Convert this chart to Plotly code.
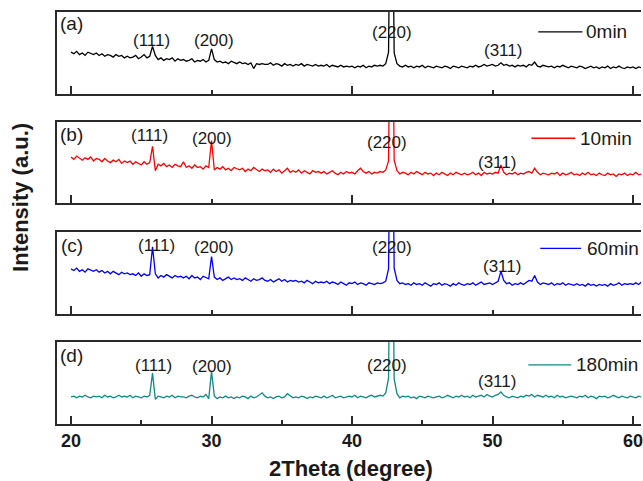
import plotly.graph_objects as go

# ---------------- data ----------------
two_theta = [round(20 + 0.2 * i, 1) for i in range(204)]  # 20.0 ... 60.6 sampling grid

intensity_0min = [
    51, 49, 52, 48, 50, 47, 51, 49, 48, 50,
    47, 49, 46, 48, 47, 45, 48, 46, 47, 44,
    46, 44, 45, 47, 43, 45, 48, 44, 46, 58,
    47, 42, 44, 41, 43, 42, 44, 40, 43, 41,
    42, 40, 41, 43, 39, 41, 40, 42, 39, 41,
    55, 42, 39, 40, 38, 39, 37, 40, 38, 37,
    39, 37, 38, 36, 38, 31, 37, 36, 37, 36,
    36, 38, 35, 37, 36, 34, 37, 35, 36, 34,
    36, 35, 37, 34, 36, 35, 34, 36, 34, 35,
    34, 36, 33, 35, 34, 33, 35, 33, 34, 33,
    34, 32, 34, 33, 35, 32, 34, 33, 35, 34,
    35, 34, 37, 51, 400, 50, 37, 34, 33, 35,
    33, 34, 32, 34, 33, 35, 32, 34, 33, 32,
    34, 33, 32, 34, 33, 31, 34, 33, 32, 34,
    33, 32, 34, 33, 35, 33, 34, 36, 34, 35,
    36, 34, 35, 38, 35, 36, 34, 35, 33, 35,
    34, 35, 33, 36, 35, 39, 34, 33, 35, 34,
    33, 34, 32, 34, 33, 35, 33, 32, 34, 33,
    32, 34, 33, 31, 33, 34, 32, 33, 31, 33,
    32, 34, 31, 33, 32, 34, 32, 31, 33, 32,
    33, 31, 33, 32,
]

intensity_10min = [
    57, 54, 58, 55, 53, 56, 54, 57, 52, 55,
    54, 51, 55, 52, 50, 53, 51, 54, 49, 52,
    50, 52, 48, 51, 49, 47, 51, 48, 50, 70,
    40, 48, 46, 49, 45, 47, 44, 48, 46, 45,
    51, 44, 46, 43, 47, 44, 45, 42, 46, 44,
    77, 41, 44, 42, 45, 41, 43, 40, 44, 42,
    41, 43, 39, 42, 40, 44, 41, 39, 42, 40,
    41, 38, 42, 39, 41, 37, 40, 43, 38, 40,
    38, 41, 37, 40, 38, 36, 40, 38, 39, 37,
    39, 36, 38, 40, 37, 35, 38, 36, 39, 37,
    38, 36, 40, 43, 39, 37, 39, 36, 38, 37,
    39, 38, 41, 52, 400, 53, 40, 36, 38, 37,
    35, 38, 36, 39, 37, 35, 38, 36, 37, 34,
    37, 35, 38, 36, 34, 37, 35, 38, 36, 35,
    37, 35, 36, 38, 35, 37, 34, 38, 36, 37,
    36, 38, 37, 47, 38, 35, 37, 36, 38, 35,
    37, 36, 38, 39, 37, 43, 38, 35, 37, 36,
    35, 37, 36, 38, 34, 37, 35, 36, 38, 35,
    36, 34, 37, 35, 38, 35, 36, 34, 37, 35,
    34, 37, 35, 36, 33, 36, 35, 37, 34, 36,
    35, 38, 35, 36,
]

intensity_60min = [
    55, 53, 56, 52, 54, 51, 55, 53, 52, 54,
    51, 53, 50, 52, 49, 52, 50, 48, 51, 49,
    50, 48, 49, 47, 50, 46, 49, 47, 48, 82,
    49, 44, 47, 45, 48, 46, 44, 47, 45, 46,
    44, 46, 43, 47, 44, 45, 42, 46, 44, 43,
    70, 45, 42, 44, 41, 43, 45, 42, 44, 42,
    43, 41, 44, 42, 40, 43, 41, 42, 44, 41,
    40, 42, 39, 41, 43, 40, 42, 39, 41, 40,
    41, 39, 40, 38, 41, 39, 37, 40, 38, 39,
    38, 40, 37, 39, 38, 36, 39, 37, 35, 38,
    37, 39, 36, 38, 37, 35, 38, 37, 36, 38,
    37, 38, 40, 55, 400, 56, 41, 37, 38, 36,
    37, 35, 38, 36, 37, 35, 38, 36, 34, 37,
    36, 38, 35, 37, 36, 34, 37, 35, 38, 36,
    35, 37, 36, 38, 35, 37, 39, 36, 37, 38,
    36, 38, 40, 52, 41, 37, 38, 35, 37, 36,
    38, 36, 39, 41, 40, 47, 39, 36, 38, 37,
    36, 38, 35, 37, 36, 38, 35, 37, 36, 35,
    37, 35, 36, 34, 37, 35, 36, 34, 36, 35,
    36, 34, 37, 35, 36, 38, 35, 37, 36, 37,
    36, 38, 36, 39,
]

intensity_180min = [
    33, 34, 32, 34, 33, 35, 33, 32, 34, 33,
    34, 32, 35, 33, 34, 32, 33, 35, 33, 34,
    33, 35, 32, 34, 33, 32, 34, 33, 35, 62,
    30, 34, 33, 32, 34, 33, 35, 32, 34, 33,
    33, 32, 34, 35, 33, 32, 34, 33, 36, 31,
    64, 34, 31, 33, 32, 34, 32, 33, 31, 33,
    32, 34, 33, 31, 34, 32, 33, 35, 38, 34,
    32, 33, 31, 33, 34, 32, 33, 37, 34, 32,
    33, 32, 34, 33, 31, 33, 32, 34, 33, 32,
    34, 32, 33, 35, 32, 33, 34, 32, 33, 34,
    33, 35, 32, 34, 33, 32, 34, 35, 33, 34,
    35, 34, 38, 56, 400, 55, 37, 32, 34, 33,
    34, 32, 33, 31, 34, 33, 32, 34, 33, 32,
    33, 34, 32, 33, 35, 33, 32, 34, 33, 35,
    33, 34, 32, 35, 33, 34, 35, 33, 36, 34,
    33, 35, 36, 39, 35, 33, 32, 34, 33, 32,
    34, 33, 35, 34, 36, 33, 35, 34, 33, 35,
    33, 34, 32, 35, 33, 34, 32, 33, 34, 33,
    32, 34, 33, 35, 32, 34, 33, 31, 34, 33,
    34, 32, 33, 35, 33, 32, 34, 33, 32, 34,
    33, 32, 34, 33,
]

series_names = ["0min", "10min", "60min", "180min"]
series_values = [intensity_0min, intensity_10min, intensity_60min, intensity_180min]
series_colors = ["#000000", "#ff0000", "#0000ff", "#0f8a84"]
panel_tags = ["(a)", "(b)", "(c)", "(d)"]
peak_labels = ["(111)", "(200)", "(220)", "(311)"]
x_tick_values = [20, 30, 40, 50, 60]

# ---------------- layout helpers ----------------
W, H = 643, 481
FONT = "Liberation Sans, Arial, sans-serif"
TEXT_COLOR = "#1a1a1a"
AXIS_COLOR = "#2a2a2a"

y_domains = [[0.801, 1.0], [0.536, 0.733], [0.267, 0.466], [0.0, 0.199]]
x_range = [19.0, 60.57]
y_range = [0, 100]

# label placements (x in degrees, y in panel units 0-100)
label_xy = [
    [(25.74, 65.6), (30.14, 65.6), (42.84, 74.7), (50.78, 52.9)],
    [(25.57, 83.3), (30.04, 79.6), (42.48, 74.7), (50.35, 50.0)],
    [(26.06, 83.5), (30.18, 81.7), (42.84, 81.1), (50.64, 57.9)],
    [(25.85, 71.3), (30.04, 70.7), (42.48, 71.3), (50.35, 51.8)],
]
tag_xy = [(19.29, 85.7), (19.29, 84.6), (19.36, 83.0), (19.29, 83.5)]
legend_line = [(53.26, 56.40, 75.7), (52.77, 55.89, 80.0), (53.40, 56.31, 80.0), (52.55, 55.60, 72.0)]
legend_text_x = [56.74, 56.31, 56.81, 56.03]

fig = go.Figure()
annotations = []
shapes = []

for k in range(4):
    suffix = "" if k == 0 else str(k + 1)
    xa, ya = "x" + suffix, "y" + suffix
    fig.add_trace(go.Scatter(
        x=two_theta, y=series_values[k], mode="lines", name=series_names[k],
        line=dict(color=series_colors[k], width=1.3), xaxis=xa, yaxis=ya,
        showlegend=False, hoverinfo="skip",
    ))
    bottom = (k == 3)
    fig.layout["xaxis" + suffix] = dict(
        domain=[0, 1], anchor=ya, range=x_range,
        showline=True, mirror=True, linecolor=AXIS_COLOR, linewidth=1.5,
        ticks="inside", ticklen=8, tickwidth=1.5, tickcolor=AXIS_COLOR,
        tickmode="array" if bottom else "linear",
        tickvals=x_tick_values if bottom else None,
        tick0=20, dtick=10 if bottom else 20,
        minor=dict(ticks="inside", ticklen=4, tickwidth=1.5, tickcolor=AXIS_COLOR,
                   tick0=20, dtick=5 if bottom else 10, showgrid=False),
        showticklabels=bottom,
        ticklabeloverflow="allow",
        tickfont=dict(family=FONT, size=18, color=TEXT_COLOR, weight="bold"),
        showgrid=False, zeroline=False,
    )
    fig.layout["yaxis" + suffix] = dict(
        domain=y_domains[k], anchor=xa, range=y_range,
        showline=True, mirror=False, linecolor=AXIS_COLOR, linewidth=1.5,
        ticks="", showticklabels=False, showgrid=False, zeroline=False,
    )
    for j, lab in enumerate(peak_labels):
        lx, ly = label_xy[k][j]
        annotations.append(dict(
            x=lx, y=ly, xref=xa, yref=ya, text=lab, showarrow=False,
            xanchor="center", yanchor="middle",
            font=dict(family=FONT, size=17, color=TEXT_COLOR),
        ))
    tx, ty = tag_xy[k]
    annotations.append(dict(
        x=tx, y=ty, xref=xa, yref=ya, text=panel_tags[k], showarrow=False,
        xanchor="left", yanchor="middle", xshift=-3,
        font=dict(family=FONT, size=19, color=TEXT_COLOR),
    ))
    x0, x1, yl = legend_line[k]
    shapes.append(dict(type="line", xref=xa, yref=ya, x0=x0, x1=x1, y0=yl, y1=yl,
                       line=dict(color=series_colors[k], width=1.3)))
    annotations.append(dict(
        x=legend_text_x[k], y=yl, xref=xa, yref=ya, text=series_names[k], showarrow=False,
        xanchor="left", yanchor="middle", xshift=-3,
        font=dict(family=FONT, size=19, color=TEXT_COLOR),
    ))

annotations.append(dict(
    x=0.5026, y=-0.108, xref="paper", yref="paper", text="2Theta (degree)",
    showarrow=False, xanchor="center", yanchor="middle",
    font=dict(family=FONT, size=22, color=TEXT_COLOR, weight="bold"),
))
annotations.append(dict(
    x=-0.0614, y=0.549, xref="paper", yref="paper", text="Intensity (a.u.)",
    showarrow=False, xanchor="center", yanchor="middle", textangle=-90,
    font=dict(family=FONT, size=22, color=TEXT_COLOR, weight="bold"),
))

fig.update_layout(
    width=W, height=H,
    margin=dict(l=57, r=0, t=12, b=57, pad=0),
    paper_bgcolor="white", plot_bgcolor="white",
    annotations=annotations, shapes=shapes,
    showlegend=False,
)

fig.write_html(
    "out.html",
    config={"displayModeBar": False},
    post_script="document.body.style.margin='0';document.body.style.overflow='hidden';",
)
